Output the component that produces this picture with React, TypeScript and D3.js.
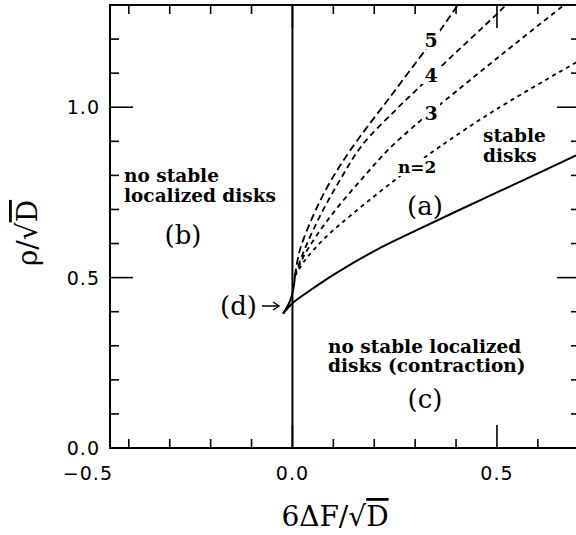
import React from "react";
import * as d3 from "d3";

const W = 576;
const H = 535;

// axis domains
const xDomain = [-0.446, 0.703];
const yDomain = [0, 1.3];

// tick definitions
const xMajorTicks = [-0.5, 0.0, 0.5];
const xMajorLabels = ["\u22120.5", "0.0", "0.5"];
const xMinorTicks = [-0.4, -0.3, -0.2, -0.1, 0.1, 0.2, 0.3, 0.4, 0.6, 0.7];
const yMajorTicks = [0.0, 0.5, 1.0];
const yMajorLabels = ["0.0", "0.5", "1.0"];
const yMinorTicks = [0.1, 0.2, 0.3, 0.4, 0.6, 0.7, 0.8, 0.9, 1.1, 1.2];

// solid boundary curve (lower bound of stable disks)
const solidCurve: [number, number][] = [
  [-0.023, 0.394], [0.0, 0.425], [0.05, 0.468], [0.1, 0.508], [0.2, 0.578],
  [0.3, 0.637], [0.4, 0.694], [0.5, 0.75], [0.6, 0.806], [0.71, 0.868],
];

// small region (d) boundary
const dCurve: [number, number][] = [
  [-0.023, 0.394], [-0.013, 0.414], [-0.005, 0.434], [0.0, 0.455], [0.004, 0.48], [0.006, 0.505],
];

// dashed curves for n = 2..5
const curveN2: [number, number][] = [
  [0.006, 0.505], [0.03, 0.55], [0.08, 0.617], [0.15, 0.69], [0.263, 0.798],
  [0.36, 0.884], [0.5, 0.995], [0.71, 1.143],
];
const curveN3: [number, number][] = [
  [0.006, 0.505], [0.03, 0.568], [0.09, 0.675], [0.17, 0.79], [0.24, 0.882],
  [0.33, 0.978], [0.373, 1.02], [0.515, 1.158], [0.68, 1.315],
];
const curveN4: [number, number][] = [
  [0.006, 0.505], [0.026, 0.572], [0.067, 0.68], [0.116, 0.786], [0.17, 0.888],
  [0.255, 0.995], [0.32, 1.07], [0.369, 1.126], [0.5, 1.274], [0.53, 1.31],
];
const curveN5: [number, number][] = [
  [0.006, 0.505], [0.018, 0.58], [0.05, 0.68], [0.09, 0.776], [0.145, 0.88],
  [0.24, 1.032], [0.33, 1.176], [0.365, 1.232], [0.41, 1.31],
];

const dashedSeries = [
  { name: "n=2", pts: curveN2, dash: "4 4" },
  { name: "3", pts: curveN3, dash: "5 4" },
  { name: "4", pts: curveN4, dash: "6 4" },
  { name: "5", pts: curveN5, dash: "7.5 4" },
];

const x = d3.scaleLinear().domain(xDomain).range([110, 580]);
const y = d3.scaleLinear().domain(yDomain).range([448, 5]);

const line = d3
  .line<[number, number]>()
  .x((d) => x(d[0]))
  .y((d) => y(d[1]))
  .curve(d3.curveCatmullRom.alpha(0.5));

const annFont = "'DejaVu Serif', serif";
const tickFont = "'DejaVu Sans', sans-serif";

export default function App() {
  const left = x(xDomain[0]);
  const right = x(xDomain[1]);
  const top = y(yDomain[1]);
  const bottom = y(yDomain[0]);
  const major = 23;
  const minor = 9;
  return (
    <div style={{ position: "absolute", left: 0, top: 0 }}>
      <svg width={W} height={H} style={{ display: "block", background: "#fff" }}>
        <defs>
          <clipPath id="plot">
            <rect x={left} y={top} width={right - left} height={bottom - top} />
          </clipPath>
        </defs>
        {/* frame */}
        <rect x={left} y={top} width={right - left} height={bottom - top} fill="none" stroke="#000" strokeWidth={2} />
        {/* x ticks bottom & top */}
        {xMajorTicks.filter((v) => v > xDomain[0] && v < xDomain[1]).map((v) => (
          <g key={"xM" + v}>
            <line x1={x(v)} x2={x(v)} y1={bottom} y2={bottom - major} stroke="#000" strokeWidth={1.6} />
            <line x1={x(v)} x2={x(v)} y1={top} y2={top + major} stroke="#000" strokeWidth={1.6} />
          </g>
        ))}
        {xMinorTicks.map((v) => (
          <g key={"xm" + v}>
            <line x1={x(v)} x2={x(v)} y1={bottom} y2={bottom - minor} stroke="#000" strokeWidth={1.6} />
            <line x1={x(v)} x2={x(v)} y1={top} y2={top + minor} stroke="#000" strokeWidth={1.6} />
          </g>
        ))}
        {/* y ticks left & right */}
        {yMajorTicks.map((v) => (
          <g key={"yM" + v}>
            <line x1={left} x2={left + major} y1={y(v)} y2={y(v)} stroke="#000" strokeWidth={1.6} />
            <line x1={right} x2={right - major} y1={y(v)} y2={y(v)} stroke="#000" strokeWidth={1.6} />
          </g>
        ))}
        {yMinorTicks.map((v) => (
          <g key={"ym" + v}>
            <line x1={left} x2={left + minor} y1={y(v)} y2={y(v)} stroke="#000" strokeWidth={1.6} />
            <line x1={right} x2={right - minor} y1={y(v)} y2={y(v)} stroke="#000" strokeWidth={1.6} />
          </g>
        ))}
        {/* tick labels */}
        {xMajorTicks.map((v, i) => (
          <text key={"xl" + v} x={x(v)} y={480} textAnchor="middle" fontFamily={tickFont} fontSize={19} letterSpacing={1}>
            {xMajorLabels[i]}
          </text>
        ))}
        {yMajorTicks.map((v, i) => (
          <text key={"yl" + v} x={100} y={y(v) + 7} textAnchor="end" fontFamily={tickFont} fontSize={19} letterSpacing={1}>
            {yMajorLabels[i]}
          </text>
        ))}
        {/* plot content */}
        <g clipPath="url(#plot)">
          <line x1={x(0)} x2={x(0)} y1={top} y2={bottom} stroke="#000" strokeWidth={2} />
          <path d={line(solidCurve) || ""} fill="none" stroke="#000" strokeWidth={2} />
          <path d={line(dCurve) || ""} fill="none" stroke="#000" strokeWidth={2} />
          {dashedSeries.map((s) => (
            <path key={s.name} d={line(s.pts) || ""} fill="none" stroke="#000" strokeWidth={1.8} strokeDasharray={s.dash} />
          ))}
        </g>
        {/* curve labels */}
        <g fontFamily={annFont} fontWeight="bold" fontSize={19}>
          <rect x={422} y={30} width={18} height={19} fill="#fff" />
          <text x={431} y={47} textAnchor="middle">5</text>
          <rect x={422} y={65} width={18} height={19} fill="#fff" />
          <text x={431} y={82} textAnchor="middle">4</text>
          <rect x={422} y={103} width={18} height={19} fill="#fff" />
          <text x={431} y={120} textAnchor="middle">3</text>
        </g>
        <g fontFamily={annFont} fontWeight="bold" fontSize={17}>
          <rect x={396} y={158} width={44} height={18} fill="#fff" />
          <text x={398} y={173}>n=2</text>
        </g>
        {/* region annotations */}
        <g fontFamily={annFont} fontWeight="bold" fontSize={18.5}>
          <text x={124} y={182}>no stable</text>
          <text x={124} y={202}>localized disks</text>
          <text x={483} y={142}>stable</text>
          <text x={483} y={162}>disks</text>
          <text x={328} y={353}>no stable localized</text>
          <text x={328} y={372}>disks (contraction)</text>
        </g>
        <g fontFamily={annFont} fontSize={26}>
          <text x={183} y={244} textAnchor="middle">(b)</text>
          <text x={425} y={215} textAnchor="middle">(a)</text>
          <text x={425} y={408} textAnchor="middle">(c)</text>
          <text x={220} y={315}>(d)</text>
        </g>
        {/* arrow for (d) */}
        <line x1={262} x2={278} y1={306} y2={306} stroke="#000" strokeWidth={1.5} />
        <path d="M273,302 L279,306 L273,310" fill="none" stroke="#000" strokeWidth={1.5} />
        {/* axis titles */}
        <text x={335} y={526} textAnchor="middle" fontFamily={annFont} fontSize={28}>
          6ΔF/√<tspan style={{ textDecoration: "overline" }}>D</tspan>
        </text>
        <text
          transform={`translate(37,233) rotate(-90)`}
          textAnchor="middle"
          fontFamily={annFont}
          fontSize={28}
        >
          ρ/√<tspan style={{ textDecoration: "overline" }}>D</tspan>
        </text>
      </svg>
    </div>
  );
}
